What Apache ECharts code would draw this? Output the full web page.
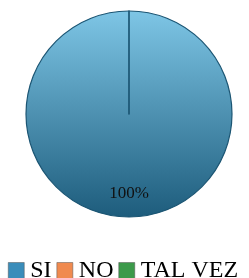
<!DOCTYPE html>
<html>
<head>
<meta charset="utf-8">
<script src="https://cdn.jsdelivr.net/npm/echarts@6/dist/echarts.min.js"></script>
<style>
  html, body { margin: 0; padding: 0; background: #fff; }
  #chart { width: 249px; height: 278px; }
</style>
</head>
<body>
<div id="chart"></div>
<script>
const categories = ['SI', 'NO', 'TAL VEZ'];
const values = [100, 0, 0];
const colors = ['#3a8dba', '#f08a4f', '#3c9a4a'];

const chart = echarts.init(document.getElementById('chart'));

const data = categories.map((name, i) => {
  const item = { name: name, value: values[i] };
  if (i === 0) {
    item.itemStyle = {
      color: new echarts.graphic.LinearGradient(0, 0, 0, 1, [
        { offset: 0, color: '#7ec6e6' },
        { offset: 1, color: '#1d5c7c' }
      ])
    };
  } else {
    item.itemStyle = { color: colors[i] };
    item.label = { show: false };
  }
  return item;
});

chart.setOption({
  animation: false,
  legend: {
    top: 254,
    left: 3,
    width: 300,
    padding: 5,
    itemWidth: 16,
    itemHeight: 17,
    itemGap: 5,
    icon: 'rect',
    textStyle: { fontFamily: 'Liberation Serif', fontSize: 24, color: '#000', padding: [0, 0, 0, 1] },
    data: categories.map((name, i) => ({
      name: name,
      itemStyle: { color: colors[i], borderColor: '#555', borderWidth: 0.5 }
    }))
  },
  series: [
    {
      type: 'pie',
      center: [129, 114],
      radius: 103,
      startAngle: 90,
      clockwise: true,
      stillShowZeroSum: true,
      avoidLabelOverlap: false,
      itemStyle: { borderColor: '#1b5573', borderWidth: 1.2 },
      label: {
        show: true,
        position: 'inside',
        formatter: '{d}%',
        fontFamily: 'Liberation Serif',
        fontSize: 17,
        color: '#111',
        offset: [0, 25]
      },
      labelLine: { show: false },
      emphasis: { disabled: true },
      data: data
    }
  ]
});
</script>
</body>
</html>
